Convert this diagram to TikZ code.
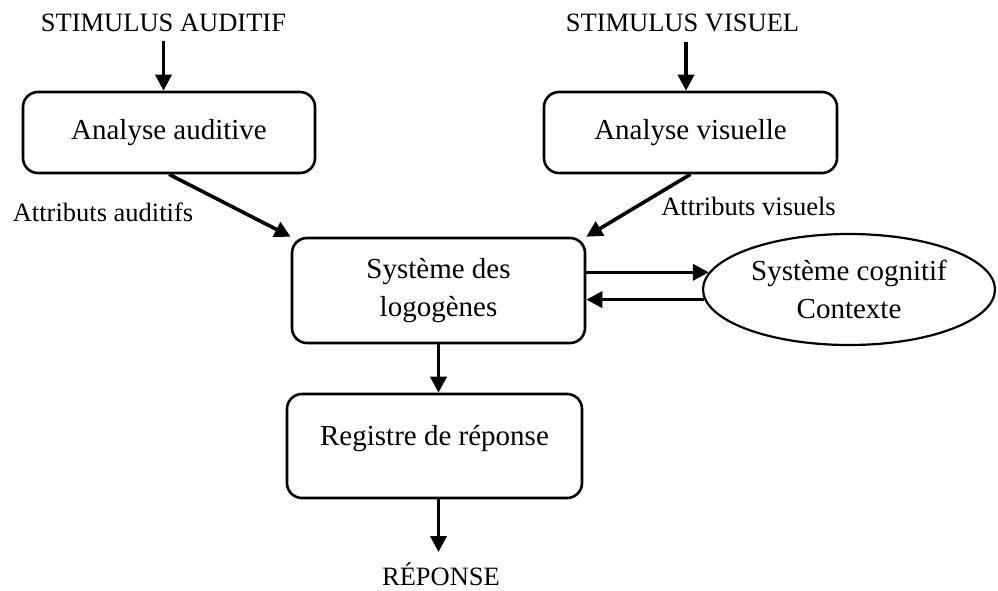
\documentclass[tikz,border=0pt]{standalone}
\usepackage{fontspec}
\setmainfont{Liberation Serif}
\usetikzlibrary{arrows.meta,shapes.geometric}
\begin{document}
\begin{tikzpicture}[x=1pt,y=-1pt,
  box/.style={draw, line width=2.6pt, rounded corners=15pt, align=center,
    font=\fontsize{29}{38}\selectfont, inner sep=0pt},
  lbl/.style={font=\fontsize{26.5}{30}\selectfont, inner xsep=0pt, inner ysep=10pt, anchor=base},
  arr/.style={line width=3.6pt, -{Triangle[length=16pt,width=16pt]}},
]
\useasboundingbox (0,0) rectangle (998,590);
% labels
\node[lbl] (stimA) at (163.5,31) {STIMULUS AUDITIF};
\node[lbl] (stimV) at (682.5,31.5) {STIMULUS VISUEL};
\node[lbl] (atA) at (103,221) {Attributs auditifs};
\node[lbl] (atV) at (748.5,215) {Attributs visuels};
\node[lbl] (rep) at (441,585) {RÉPONSE};
% boxes
\node[box, minimum width=292pt, minimum height=81pt] (aa) at (169,132.5) {Analyse auditive};
\node[box, minimum width=293pt, minimum height=81pt] (av) at (690.5,132.5) {Analyse visuelle};
\node[box, minimum width=293pt, minimum height=105pt] (logo) at (438.5,290.5) {Système des\\logogènes};
\node[box, minimum width=295pt, minimum height=104pt, text height=20pt, text depth=22pt] (reg) at (434.5,446) {Registre de réponse};
\node[draw, ellipse, line width=2.2pt, inner sep=0pt, minimum width=292pt, minimum height=111pt,
  align=center, font=\fontsize{29}{38}\selectfont] (cog) at (849,289.5) {Système cognitif\\Contexte};
% connectors
\draw[arr] (stimA.south) -- (stimA.south |- aa.north);
\draw[arr] ([xshift=3.5pt]stimV.south) -- ([xshift=3.5pt]stimV.south |- av.north);
\draw[arr] (aa.south) -- (logo.north west);
\draw[arr] (av.south) -- (logo.north east);
\draw[arr] (cog.173 -| logo.east) -- (cog.173);
\draw[arr] (cog.184) -- (cog.184 -| logo.east);
\draw[arr] (logo.south) -- (logo.south |- reg.north);
\draw[arr] (reg.south -| logo.south) -- (rep.north -| logo.south);
\end{tikzpicture}
\end{document}
